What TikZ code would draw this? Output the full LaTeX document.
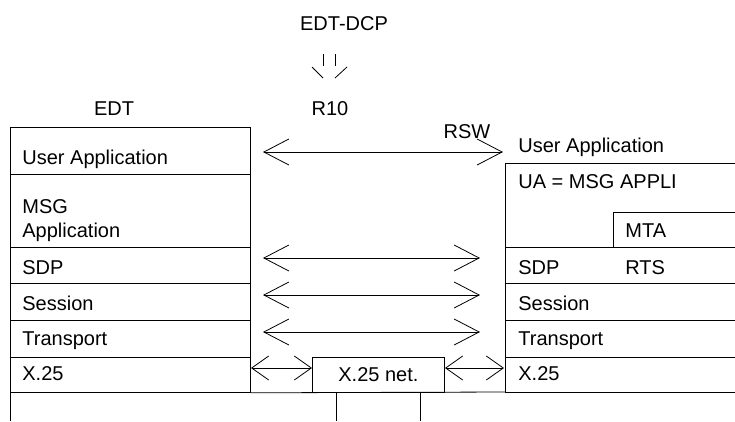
\documentclass[tikz,border=0pt]{standalone}
\usepackage{fontspec}
\setmainfont{Liberation Sans}
\usetikzlibrary{arrows.meta}
\begin{document}
\begin{tikzpicture}[x=1pt,y=-1pt, line width=0.8pt,
  lbl/.style={anchor=base west, inner sep=0pt, font=\fontsize{20}{24}\selectfont},
  ctr/.style={anchor=base, inner sep=0pt, font=\fontsize{20}{24}\selectfont},
  box/.style={draw, inner sep=0pt, anchor=north west, minimum width=240pt},
  bigbarb/.style={{Straight Barb[length=25pt,width=26pt]}-{Straight Barb[length=25pt,width=26pt]}},
  smallbarb/.style={{Straight Barb[length=17pt,width=24pt]}-{Straight Barb[length=17pt,width=24pt]}}]
\useasboundingbox (0,0) rectangle (735,421);

% titles
\node[ctr] (edtdcp) at (344,30) {EDT-DCP};
\node[ctr] (r10) at (330,115) {R10};
\node[ctr] (edt) at (114,115) {EDT};
\node[ctr] (rsw) at (467,138) {RSW};

% little symbol
\coordinate (s1a) at (323,54); \coordinate (s1b) at (323,66);
\coordinate (s2a) at (335,54); \coordinate (s2b) at (335,66);
\coordinate (s3a) at (312,67); \coordinate (s3b) at (323,78);
\coordinate (s4a) at (347,67); \coordinate (s4b) at (335,78);
\draw (s1a) -- (s1b);
\draw (s2a) -- (s2b);
\draw (s3a) -- (s3b);
\draw (s4a) -- (s4b);

% left stack
\node[box, minimum height=47pt] (luser) at (10,127) {};
\node[box, minimum height=73pt] (lmsg) at (10,174) {};
\node[box, minimum height=36pt] (lsdp) at (10,247) {};
\node[box, minimum height=37pt] (lses) at (10,283) {};
\node[box, minimum height=37pt] (ltra) at (10,320) {};
\node[box, minimum height=35pt] (lx25) at (10,357) {};
\coordinate (lbot) at (10,421);
\draw (lx25.south west) -- (lbot);

\node[lbl] (tluser) at (22,164) {User Application};
\node[lbl] (tlmsg) at (22,213) {MSG};
\node[lbl] (tlapp) at (22,237) {Application};
\node[lbl] (tlsdp) at (22,274) {SDP};
\node[lbl] (tlses) at (22,310) {Session};
\node[lbl] (tltra) at (22,345) {Transport};
\node[lbl] (tlx25) at (22,380) {X.25};

% right stack (open to the right)
\coordinate (rtop) at (505,163);
\coordinate (rbot) at (505,392);
\draw (735,163) -- (rtop) -- (rbot) -- (735,392);
\draw (505,247) -- (735,247);
\draw (505,283) -- (735,283);
\draw (505,320) -- (735,320);
\draw (505,357) -- (735,357);
\coordinate (mtab) at (613,247);
\coordinate (mtat) at (613,212);
\draw (mtab) -- (mtat) -- (735,212);

\node[lbl] (truser) at (518,152) {User Application};
\node[lbl] (trua) at (518,188) {UA = MSG APPLI};
\node[lbl] (trmta) at (625,237) {MTA};
\node[lbl] (trsdp) at (518,274) {SDP};
\node[lbl] (trrts) at (625,274) {RTS};
\node[lbl] (trses) at (518,310) {Session};
\node[lbl] (trtra) at (518,345) {Transport};
\node[lbl] (trx25) at (518,380) {X.25};

% middle bottom
\draw (lx25.south east) -- (rbot);
\node[draw, inner sep=0pt, anchor=north west, minimum width=132pt, minimum height=35pt,
      font=\fontsize{20}{24}\selectfont] (net) at (312,357) {X.25 net.};
\coordinate (n1) at (336,421);
\coordinate (n2) at (420,421);
\draw (net.south west -| n1) -- (n1);
\draw (net.south west -| n2) -- (n2);

% arrows
\coordinate (a1l) at (263,152); \coordinate (a1r) at (503,152);
\coordinate (a2l) at (263,258); \coordinate (a2r) at (480,258);
\coordinate (a3l) at (263,295); \coordinate (a3r) at (480,295);
\coordinate (a4l) at (263,332); \coordinate (a4r) at (480,332);
\draw[bigbarb] (a1l) -- (a1r);
\draw[bigbarb] (a2l) -- (a2r);
\draw[bigbarb] (a3l) -- (a3r);
\draw[bigbarb] (a4l) -- (a4r);
\coordinate (x1l) at (251,368); \coordinate (x1r) at (312,368);
\coordinate (x2l) at (445,368); \coordinate (x2r) at (504,368);
\draw[smallbarb] (x1l) -- (x1r);
\draw[smallbarb] (x2l) -- (x2r);
\end{tikzpicture}
\end{document}
